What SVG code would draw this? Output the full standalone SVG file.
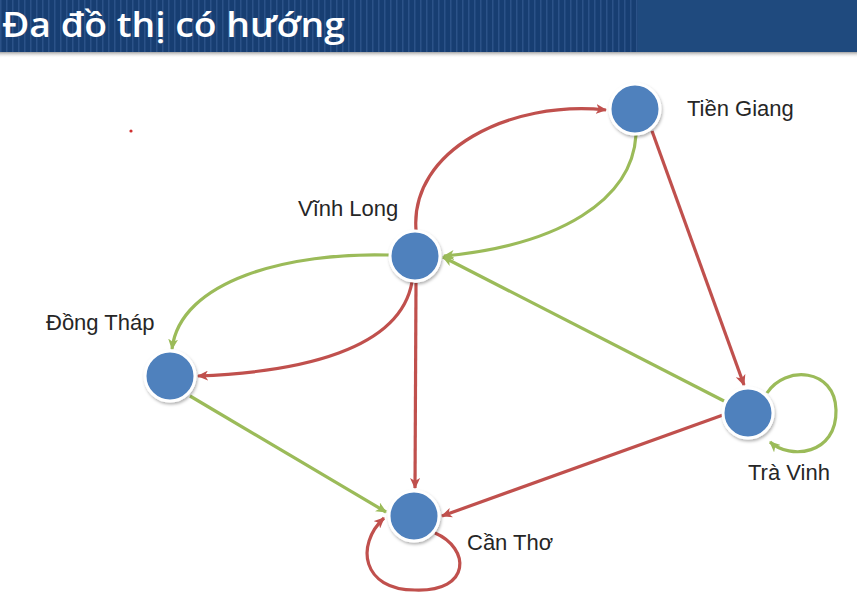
<svg xmlns="http://www.w3.org/2000/svg" width="857" height="600" viewBox="0 0 857 600">
<style>
.lbl{font-family:"Liberation Sans",Arial,sans-serif;font-size:22px;fill:#262626}
.title{font-family:"Open Sans","Liberation Sans",sans-serif;font-size:35px;font-weight:600;fill:#ffffff}
.node{fill:#4f81bd;stroke:#ffffff;stroke-width:3}
.red{fill:none;stroke:#c0504d;stroke-width:3.2;marker-end:url(#ar)}
.green{fill:none;stroke:#9bbb59;stroke-width:3.2;marker-end:url(#ag)}
</style>
<defs>
<pattern id="stripes" width="6" height="10" patternUnits="userSpaceOnUse">
<rect width="6" height="10" fill="#173e72"/>
<rect x="0" width="1.5" height="10" fill="#2b5288"/>
</pattern>
<linearGradient id="shadowGrad" x1="0" y1="0" x2="0" y2="1">
<stop offset="0" stop-color="#8a8a8a" stop-opacity="0.8"/>
<stop offset="1" stop-color="#ffffff" stop-opacity="0"/>
</linearGradient>
<filter id="ds" x="-30%" y="-30%" width="160%" height="160%">
<feDropShadow dx="1" dy="2" stdDeviation="1.5" flood-color="#000" flood-opacity="0.3"/>
</filter>
<marker id="ar" markerWidth="12" markerHeight="10" refX="10" refY="5" orient="auto" markerUnits="userSpaceOnUse">
<path d="M0,0 L11,5 L0,10 L3,5 z" fill="#c0504d"/>
</marker>
<marker id="ag" markerWidth="12" markerHeight="10" refX="10" refY="5" orient="auto" markerUnits="userSpaceOnUse">
<path d="M0,0 L11,5 L0,10 L3,5 z" fill="#9bbb59"/>
</marker>
</defs>
<rect width="857" height="600" fill="#ffffff"/>
<g id="header">
<rect x="0" y="52" width="857" height="6" fill="url(#shadowGrad)"/>
<rect x="0" y="0" width="638" height="52" fill="url(#stripes)"/>
<rect x="638" y="0" width="219" height="52" fill="#1f4a7e"/>
<text class="title" x="2" y="37" textLength="343" lengthAdjust="spacingAndGlyphs">Đa đồ thị có hướng</text>
</g>
<circle cx="131" cy="131" r="1.6" fill="#d03030"/>
<g id="connectors">
<path class="red" d="M416,230 C410,150 510,100 606,110"/>
<path class="green" d="M636,135 C632,200 560,245 444,256"/>
<path class="red" d="M652,131 L744,385"/>
<path class="green" d="M724,401 L443,257"/>
<path class="green" d="M389,255 C290,252 180,280 172,349"/>
<path class="red" d="M412,282 C400,350 300,372 198,376"/>
<path class="red" d="M416,283 L415,488"/>
<path class="green" d="M190,396 L386,512"/>
<path class="red" d="M723,415 L442,516"/>
<path class="red" d="M435,533 C470,548 472,592 415,590 C362,590 355,545 384,518"/>
<path class="green" d="M767,393 C785,365 835,368 836,410 C837,455 790,460 770,442"/>
</g>
<g id="tien-giang">
<circle class="node" cx="635" cy="109" r="25" filter="url(#ds)"/>
<text class="lbl" x="687" y="116">Tiền Giang</text>
</g>
<g id="vinh-long">
<circle class="node" cx="415" cy="256" r="25" filter="url(#ds)"/>
<text class="lbl" x="298" y="216">Vĩnh Long</text>
</g>
<g id="dong-thap">
<circle class="node" cx="170" cy="376" r="25" filter="url(#ds)"/>
<text class="lbl" x="46" y="330">Đồng Tháp</text>
</g>
<g id="can-tho">
<circle class="node" cx="414" cy="516" r="25" filter="url(#ds)"/>
<text class="lbl" x="467" y="550">Cần Thơ</text>
</g>
<g id="tra-vinh">
<circle class="node" cx="748" cy="413" r="25" filter="url(#ds)"/>
<text class="lbl" x="748" y="480">Trà Vinh</text>
</g>
</svg>
